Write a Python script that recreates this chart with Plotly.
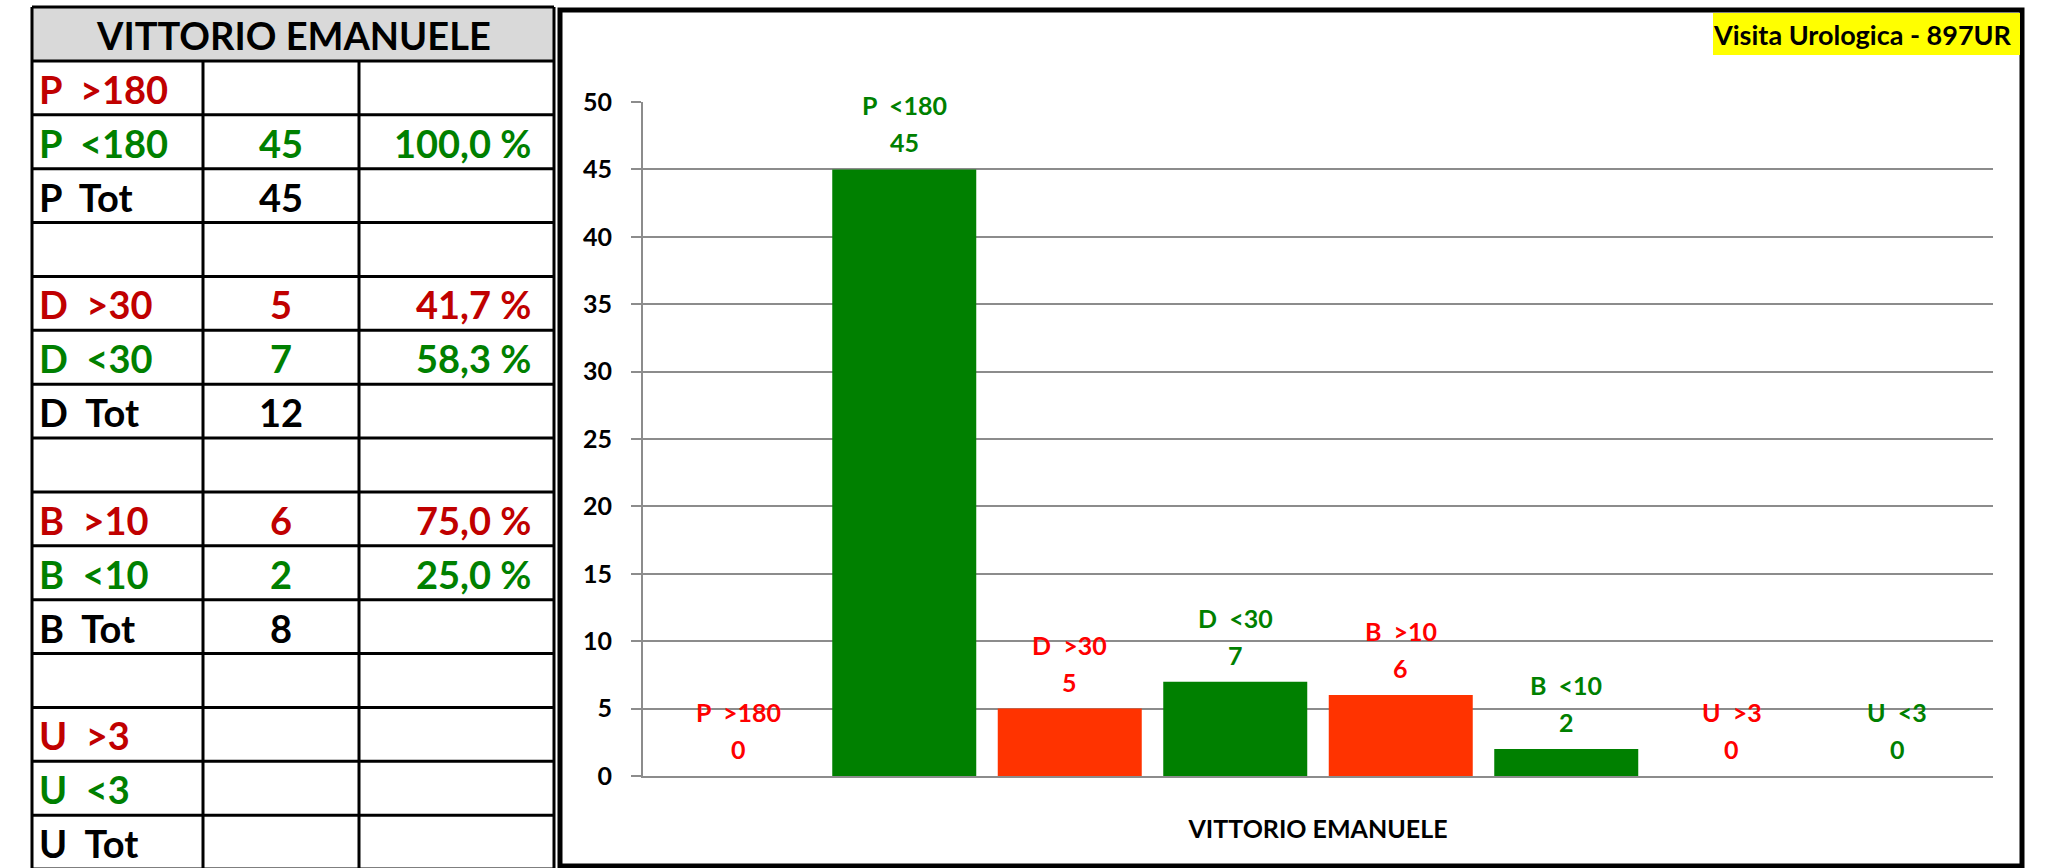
import plotly.graph_objects as go

# ---- data -------------------------------------------------------------
hospital = "VITTORIO EMANUELE"
badge_text = "Visita Urologica - 897UR"

series_names = ["P  >180", "P  <180", "D  >30", "D  <30",
                "B  >10", "B  <10", "U  >3", "U  <3"]
series_values = [0, 45, 5, 7, 6, 2, 0, 0]
group_prefixes = ["P", "D", "B", "U"]

y_tick_values = [0, 5, 10, 15, 20, 25, 30, 35, 40, 45, 50]

# ---- styling ----------------------------------------------------------
W, H = 2048, 868
FONT = "Lato, 'Open Sans', sans-serif"
GREEN = "#008000"
BAR_RED = "#FF3300"
LABEL_RED = "#FF0000"
TABLE_RED = "#C00000"
GRID = "#8C8C8C"


def fx(px):
    return px / W


def fy(py):
    return 1 - py / H


def nb(s):
    # keep the double spacing of the labels visible in SVG text
    return s.replace("  ", "\u00a0 ")


is_over = [">" in n for n in series_names]
bar_colors = [BAR_RED if o else GREEN for o in is_over]
label_colors = [LABEL_RED if o else GREEN for o in is_over]

n = len(series_names)
xs = list(range(n))

# plot area in pixels
PLOT_L, PLOT_R, PLOT_T, PLOT_B = 643, 1993, 102, 776
SLOT_PX = 165.5
BAR_PX = 144
half_span = (PLOT_R - PLOT_L) / 2 / SLOT_PX
center = (n - 1) / 2

fig = go.Figure()
fig.add_trace(go.Bar(
    x=xs, y=series_values, width=BAR_PX / SLOT_PX,
    marker=dict(color=bar_colors, line=dict(width=0)),
    showlegend=False, hoverinfo="skip",
))

annotations = []
shapes = []

# data labels: series name over value
for i, (name, val, col) in enumerate(zip(series_names, series_values, label_colors)):
    annotations.append(dict(
        x=i, y=val, xref="x", yref="y", text=nb(name), showarrow=False,
        yanchor="middle", yshift=64,
        font=dict(family=FONT, size=25, color=col, weight="bold")))
    annotations.append(dict(
        x=i, y=val, xref="x", yref="y", text=str(val), showarrow=False,
        yanchor="middle", yshift=27,
        font=dict(family=FONT, size=25, color=col, weight="bold")))

# small end ticks of the category axis
for xd in (0, 1):
    shapes.append(dict(type="line", xref="x domain", yref="y",
                       x0=xd, x1=xd, y0=0, y1=-9, ysizemode="pixel", yanchor=0,
                       line=dict(color=GRID, width=2)))

# chart frame
shapes.append(dict(type="rect", xref="paper", yref="paper",
                   x0=fx(560), x1=fx(2022), y0=fy(866), y1=fy(10),
                   line=dict(color="black", width=5), fillcolor="rgba(0,0,0,0)"))

# badge in the upper right corner
shapes.append(dict(type="rect", xref="paper", yref="paper",
                   x0=fx(1713), x1=fx(2020), y0=fy(55), y1=fy(13),
                   line=dict(width=0), fillcolor="#FFFF00"))
annotations.append(dict(x=fx(2014), y=fy(34), xref="paper", yref="paper",
                        text=badge_text, showarrow=False,
                        xanchor="right", yanchor="middle",
                        font=dict(family=FONT, size=27, color="black", weight="bold")))

# ---- summary table -----------------------------------------------------
T_L, T_R, T_TOP, HEAD_B = 32, 554, 7, 61
ROW_H = 53.87
COL1, COL2 = 203, 359
TFONT = 38

rows = []  # (label, count text, pct text, color)
for g, prefix in enumerate(group_prefixes):
    over_v = series_values[2 * g]
    under_v = series_values[2 * g + 1]
    total = over_v + under_v
    for v, name, col in ((over_v, series_names[2 * g], TABLE_RED),
                         (under_v, series_names[2 * g + 1], GREEN)):
        cnt = str(v) if v > 0 else ""
        pct = ("%.1f" % (100 * v / total)).replace(".", ",") + " %" if v > 0 else ""
        rows.append((name, cnt, pct, col))
    rows.append((prefix + "  Tot", str(total) if total > 0 else "", "", "black"))
    if g < len(group_prefixes) - 1:
        rows.append(("", "", "", "black"))

# header
shapes.append(dict(type="rect", xref="paper", yref="paper",
                   x0=fx(T_L), x1=fx(T_R), y0=fy(HEAD_B), y1=fy(T_TOP),
                   line=dict(width=0), fillcolor="#D9D9D9"))
annotations.append(dict(x=fx((T_L + T_R) / 2), y=fy((T_TOP + HEAD_B) / 2 + 1),
                        xref="paper", yref="paper", text=hospital, showarrow=False,
                        xanchor="center", yanchor="middle",
                        font=dict(family=FONT, size=TFONT, color="black", weight="bold")))

bottom = HEAD_B + ROW_H * len(rows)
line = dict(color="black", width=3)
# horizontal rules
for k in range(len(rows) + 1):
    yk = HEAD_B + ROW_H * k
    shapes.append(dict(type="line", xref="paper", yref="paper",
                       x0=fx(T_L), x1=fx(T_R), y0=fy(yk), y1=fy(yk), line=line))
shapes.append(dict(type="line", xref="paper", yref="paper",
                   x0=fx(T_L), x1=fx(T_R), y0=fy(T_TOP), y1=fy(T_TOP), line=line))
# vertical rules
for xv, top in ((T_L, T_TOP), (T_R, T_TOP), (COL1, HEAD_B), (COL2, HEAD_B)):
    shapes.append(dict(type="line", xref="paper", yref="paper",
                       x0=fx(xv), x1=fx(xv), y0=fy(bottom), y1=fy(top), line=line))

for k, (lab, cnt, pct, col) in enumerate(rows):
    yc = HEAD_B + ROW_H * (k + 0.5) + 1
    f = dict(family=FONT, size=TFONT, color=col, weight="bold")
    if lab:
        annotations.append(dict(x=fx(37), y=fy(yc), xref="paper", yref="paper",
                                text=nb(lab), showarrow=False, xanchor="left",
                                yanchor="middle", font=f))
    if cnt:
        annotations.append(dict(x=fx((COL1 + COL2) / 2), y=fy(yc), xref="paper",
                                yref="paper", text=cnt, showarrow=False,
                                xanchor="center", yanchor="middle", font=f))
    if pct:
        annotations.append(dict(x=fx(533), y=fy(yc), xref="paper", yref="paper",
                                text=pct, showarrow=False, xanchor="right",
                                yanchor="middle", font=f))

fig.update_layout(
    width=W, height=H,
    margin=dict(l=0, r=0, t=0, b=0, pad=0, autoexpand=False),
    paper_bgcolor="white", plot_bgcolor="white",
    font=dict(family=FONT, color="black"),
    annotations=annotations, shapes=shapes,
    xaxis=dict(
        domain=[fx(PLOT_L), fx(PLOT_R)],
        range=[center - half_span, center + half_span],
        tickvals=[center], ticktext=[hospital], ticks="",
        ticklabelstandoff=30,
        tickfont=dict(family=FONT, size=25, color="black", weight="bold"),
        showgrid=False, zeroline=False,
        showline=True, linecolor=GRID, linewidth=2,
        fixedrange=True,
    ),
    yaxis=dict(
        domain=[fy(PLOT_B), fy(PLOT_T)],
        range=[0, 50], tickvals=y_tick_values,
        ticks="outside", ticklen=10, tickcolor=GRID, tickwidth=2,
        ticklabelstandoff=14,
        tickfont=dict(family=FONT, size=25, color="black", weight="bold"),
        showgrid=True, gridcolor=GRID, gridwidth=2,
        zeroline=False, showline=True, linecolor=GRID, linewidth=2,
        fixedrange=True,
    ),
)

fig.write_html("out.html")
